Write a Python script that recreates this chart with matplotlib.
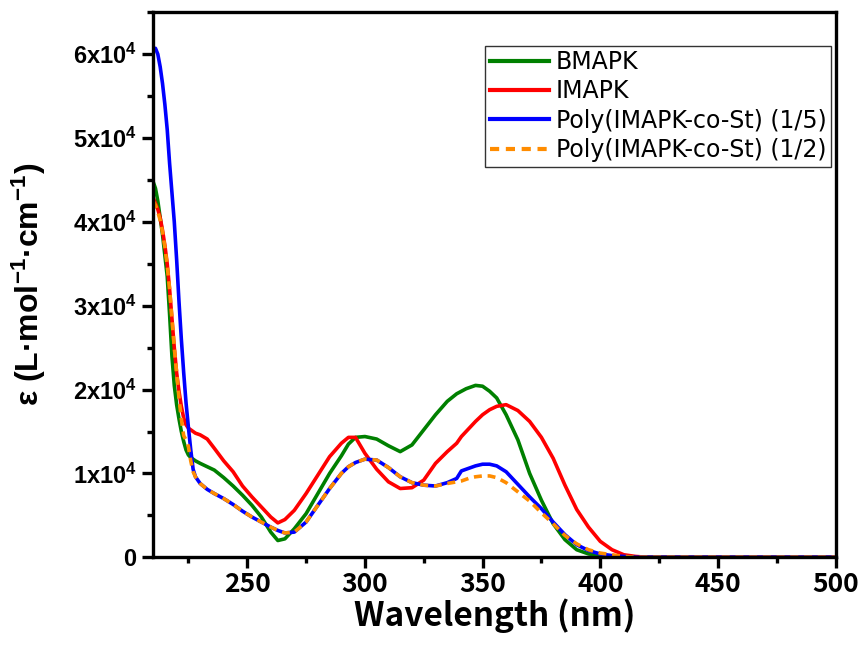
import matplotlib
matplotlib.use("Agg")
import matplotlib.pyplot as plt
from matplotlib.ticker import MultipleLocator

# wavelength grid (nm) and molar absorptivity (x1e4 L/mol/cm)
wl = [210, 211, 212, 213, 214, 215, 216, 217, 218, 219, 220, 221, 222, 223, 224,
      225, 226, 227, 228, 230, 233, 236, 240, 244, 248, 252, 256, 260, 263, 266,
      270, 275, 280, 285, 290, 293, 296, 300, 305, 310, 315, 320, 325, 330, 335,
      339, 341, 343, 345, 347, 350, 353, 356, 360, 365, 370, 375, 380, 385, 390,
      395, 400, 405, 410, 415, 420, 450, 500]

bmapk = [4.48, 4.40, 4.25, 4.05, 3.85, 3.60, 3.35, 2.90, 2.40, 2.05, 1.82, 1.65,
         1.50, 1.38, 1.28, 1.22, 1.19, 1.17, 1.15, 1.12, 1.08, 1.04, 0.95, 0.85,
         0.74, 0.62, 0.48, 0.30, 0.20, 0.22, 0.34, 0.52, 0.76, 1.00, 1.21, 1.35,
         1.43, 1.44, 1.41, 1.33, 1.26, 1.34, 1.52, 1.70, 1.86, 1.95, 1.98, 2.01,
         2.03, 2.05, 2.04, 1.98, 1.90, 1.70, 1.40, 1.00, 0.68, 0.40, 0.21, 0.09,
         0.04, 0.02, 0.01, 0.0, 0.0, 0.0, 0.0, 0.0]

imapk = [4.29, 4.22, 4.15, 4.05, 3.90, 3.72, 3.50, 3.20, 2.85, 2.50, 2.20, 1.98,
         1.80, 1.66, 1.58, 1.54, 1.52, 1.50, 1.48, 1.46, 1.41, 1.30, 1.15, 1.02,
         0.85, 0.72, 0.60, 0.48, 0.41, 0.45, 0.56, 0.76, 0.98, 1.20, 1.36, 1.43,
         1.43, 1.24, 1.05, 0.90, 0.82, 0.83, 0.92, 1.12, 1.26, 1.36, 1.44, 1.50,
         1.56, 1.62, 1.70, 1.76, 1.80, 1.82, 1.75, 1.62, 1.43, 1.18, 0.86, 0.57,
         0.36, 0.19, 0.09, 0.03, 0.01, 0.0, 0.0, 0.0]

poly15 = [6.05, 6.07, 6.00, 5.85, 5.65, 5.40, 5.10, 4.70, 4.35, 4.00, 3.55, 3.05,
          2.60, 2.20, 1.84, 1.55, 1.28, 1.05, 0.96, 0.88, 0.81, 0.76, 0.70, 0.63,
          0.55, 0.48, 0.42, 0.36, 0.32, 0.29, 0.30, 0.42, 0.62, 0.82, 1.00, 1.08,
          1.13, 1.17, 1.16, 1.07, 0.96, 0.89, 0.86, 0.85, 0.89, 0.94, 1.03, 1.05,
          1.07, 1.09, 1.11, 1.11, 1.09, 1.02, 0.87, 0.72, 0.58, 0.42, 0.27, 0.15,
          0.08, 0.04, 0.02, 0.01, 0.0, 0.0, 0.0, 0.0]

poly12 = [4.25, 4.20, 4.12, 4.02, 3.88, 3.70, 3.48, 3.20, 2.85, 2.50, 2.20, 1.90,
          1.65, 1.45, 1.40, 1.32, 1.15, 1.02, 0.96, 0.88, 0.81, 0.76, 0.70, 0.63,
          0.55, 0.48, 0.42, 0.36, 0.32, 0.29, 0.30, 0.42, 0.62, 0.82, 1.00, 1.08,
          1.13, 1.17, 1.16, 1.07, 0.96, 0.89, 0.86, 0.85, 0.88, 0.90, 0.91, 0.93,
          0.95, 0.96, 0.97, 0.97, 0.95, 0.89, 0.78, 0.67, 0.53, 0.40, 0.26, 0.16,
          0.09, 0.05, 0.03, 0.01, 0.0, 0.0, 0.0, 0.0]

labels = ["BMAPK", "IMAPK", "Poly(IMAPK-co-St) (1/5)", "Poly(IMAPK-co-St) (1/2)"]

ytick_vals = [0, 1e4, 2e4, 3e4, 4e4, 5e4, 6e4]
ytick_labels = ["0", "1x10$^4$", "2x10$^4$", "3x10$^4$", "4x10$^4$", "5x10$^4$", "6x10$^4$"]
xtick_vals = [250, 300, 350, 400, 450, 500]

plt.rcParams["mathtext.default"] = "regular"
jp = ["Noto Sans CJK JP", "DejaVu Sans"]

fig = plt.figure(figsize=(8.65, 6.45), dpi=100)
ax = fig.add_axes([0.177, 0.136, 0.789, 0.845])

def scale(v):
    return [x * 1e4 for x in v]

lw = 2.6
ax.plot(wl, scale(bmapk), color="#008000", lw=lw, label=labels[0])
ax.plot(wl, scale(imapk), color="#ff0000", lw=lw, label=labels[1])
ax.plot(wl, scale(poly15), color="#0000ff", lw=lw, label=labels[2])
ax.plot(wl, scale(poly12), color="#ff8c00", lw=lw, ls=(0, (2.2, 1.6)), label=labels[3])

ax.set_xlim(210, 500)
ax.set_ylim(0, 65000)

ax.set_xticks(xtick_vals)
ax.xaxis.set_minor_locator(MultipleLocator(25))
ax.set_yticks(ytick_vals)
ax.set_yticklabels(ytick_labels)
ax.yaxis.set_minor_locator(MultipleLocator(5000))

for s in ax.spines.values():
    s.set_linewidth(2.4)

ax.tick_params(which="major", direction="out", length=8, width=2.4, pad=4)
ax.tick_params(which="minor", direction="out", length=4.5, width=2.4)
ax.tick_params(axis="x", which="major", pad=2)

for t in ax.get_yticklabels():
    t.set_fontfamily("Liberation Sans")
    t.set_fontweight("bold")
    t.set_fontsize(17)
for t in ax.get_xticklabels():
    t.set_fontfamily(jp)
    t.set_fontweight("bold")
    t.set_fontsize(19)

ax.set_xlabel("Wavelength (nm)", fontfamily=jp, fontweight="bold", fontsize=24,
              labelpad=0)
ax.set_ylabel("ε (L·mol$^{-1}$·cm$^{-1}$)", fontfamily="Liberation Sans",
              fontweight="bold", fontsize=23, labelpad=18)

leg = ax.legend(loc="upper right", bbox_to_anchor=(0.994, 0.939),
                prop={"family": "DejaVu Sans", "size": 17},
                frameon=True, fancybox=False, edgecolor="black",
                handlelength=2.5, handletextpad=0.3, labelspacing=0.22,
                borderpad=0.2, borderaxespad=0.0)
leg.get_frame().set_linewidth(1.0)
for h in leg.get_lines():
    h.set_linewidth(3)

fig.savefig("out.png", dpi=100)
